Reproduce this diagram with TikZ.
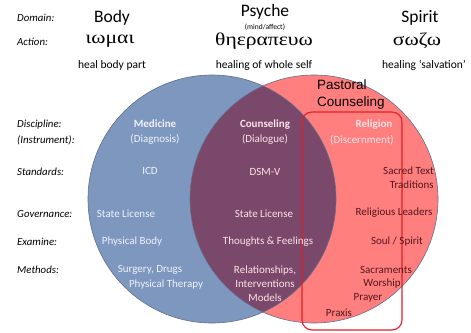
\documentclass[tikz,border=0pt]{standalone}
\usepackage{xcolor}
\usepackage{fontspec}
\setmainfont{Carlito}
\newfontfamily\greekfont[FakeStretch=1.2]{Liberation Serif}
\newfontfamily\headfont{Liberation Sans}
\usepackage{tikz}
\usetikzlibrary{positioning}
\definecolor{bodyblue}{RGB}{126,151,191}
\definecolor{spiritred}{RGB}{255,127,127}
\definecolor{psychepurple}{RGB}{121,72,107}
\definecolor{ringgray}{RGB}{96,110,140}
\definecolor{boxred}{RGB}{226,32,42}
\definecolor{darktext}{RGB}{82,22,28}
\definecolor{lighttext}{RGB}{238,242,250}
\definecolor{pinktext}{RGB}{255,226,230}
\tikzstyle{rowlabel} = [anchor=west, inner sep=0pt, font=\fontsize{10.8}{12}\selectfont\itshape]
\tikzstyle{domainhead} = [inner sep=0pt, font=\fontsize{17.5}{20}\selectfont]
\tikzstyle{greek} = [inner sep=0pt, font=\greekfont\fontsize{18}{20}\selectfont]
\tikzstyle{gloss} = [inner sep=0pt, font=\fontsize{11.5}{13}\selectfont]
\tikzstyle{inblue} = [inner sep=0pt, align=center, text=lighttext, font=\fontsize{11}{15}\selectfont]
\tikzstyle{inpurple} = [inblue, text=pinktext]
\tikzstyle{inred} = [inner sep=0pt, align=center, text=darktext, font=\fontsize{11}{14}\selectfont]

\begin{document}
\begin{tikzpicture}[x=1pt, y=-1pt]
    \useasboundingbox (0,0) rectangle (471,332);
    \coordinate (bodyc) at (212,199);
    \coordinate (spiritc) at (314,199);

    % Circles
    \fill[bodyblue] (bodyc) circle (124pt);
    \fill[spiritred] (spiritc) circle (124pt);
    \begin{scope}
        \clip (bodyc) circle (124pt);
        \fill[psychepurple] (spiritc) circle (124pt);
    \end{scope}
    \draw[ringgray, line width=0.6pt] (bodyc) circle (124pt);
    \draw[ringgray, line width=0.6pt] (spiritc) circle (124pt);

    % Pastoral counseling box
    \draw[boxred, line width=1.1pt, rounded corners=10pt] (302,112) rectangle (402,330);
    \node[anchor=north west, inner sep=0pt, align=left, font=\headfont\fontsize{13.5}{17}\selectfont] (pastoral) at (317,80) {Pastoral\\Counseling};

    % Row labels
    \node[rowlabel] (domainlbl) at (17,18) {Domain:};
    \node[rowlabel] (actionlbl) at (17,42) {Action:};
    \node[rowlabel] (disclbl) at (17,125) {Discipline:};
    \node[rowlabel] (instrlbl) at (17,140) {(Instrument):};
    \node[rowlabel] (stdlbl) at (17,172) {Standards:};
    \node[rowlabel] (govlbl) at (17,214) {Governance:};
    \node[rowlabel] (examlbl) at (17,242) {Examine:};
    \node[rowlabel] (methlbl) at (17,270) {Methods:};

    % Domains
    \node[domainhead] (body) at (112,18) {Body};
    \node[domainhead] (psyche) at (265,12) {Psyche};
    \node[inner sep=0pt, font=\fontsize{7.5}{8}\selectfont] (mind) at (265,27) {(mind/affect)};
    \node[domainhead] (spirit) at (420,18) {Spirit};

    \node[greek] (iomai) at (110,41) {ιωμαι};
    \node[greek] (therapeuo) at (264,41) {θηεραπευω};
    \node[greek] (sozo) at (417,41) {σωζω};

    \node[gloss] (healbody) at (112,65) {heal body part};
    \node[gloss] (healself) at (264,65) {healing of whole self};
    \node[gloss] (healsalv) at (424,65) {healing ‘salvation’};

    % Medicine
    \node[inblue] (medicine) at (155,132) {\textbf{Medicine}\\(Diagnosis)};
    \node[inblue] (icd) at (150,171) {ICD};
    \node[inblue] (medlicense) at (126,214) {State License};
    \node[inblue] (physbody) at (132,242) {Physical Body};
    \node[inblue] (surgery) at (150,270) {Surgery, Drugs};
    \node[inblue] (therapy) at (166,285) {Physical Therapy};

    % Counseling
    \node[inpurple] (counseling) at (265,132) {\textbf{Counseling}\\(Dialogue)};
    \node[inpurple] (dsm) at (265,172) {DSM-V};
    \node[inpurple] (counlicense) at (264,214) {State License};
    \node[inpurple] (thoughts) at (268,242) {Thoughts \& Feelings};
    \node[inpurple, font=\fontsize{11}{14}\selectfont] (relations) at (265,284) {Relationships,\\Interventions\\Models};

    % Religion
    \node[inblue, text=pinktext] (religion) at (374,125) {\textbf{Religion}};
    \node[inblue, text=pinktext] (discern) at (362,140) {(Discernment)};
    \node[inred, anchor=east, align=right] (sacred) at (434,178) {Sacred Text\\Traditions};
    \node[inred] (leaders) at (394,213) {Religious Leaders};
    \node[inred] (soul) at (397,242) {Soul / Spirit};
    \node[inred] (sacraments) at (386,270) {Sacraments};
    \node[inred] (worship) at (382,284) {Worship};
    \node[inred] (prayer) at (368,298) {Prayer};
    \node[inred] (praxis) at (339,313) {Praxis};

\end{tikzpicture}
\end{document}
